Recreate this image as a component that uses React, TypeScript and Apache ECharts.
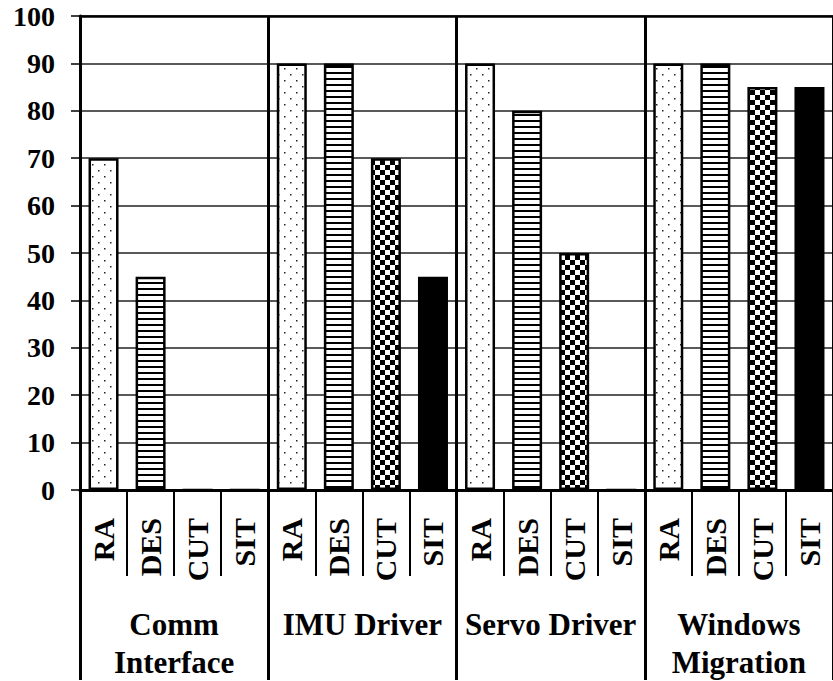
import React, { useEffect, useRef } from "react";
import * as echarts from "echarts";

const groups = ["Comm\nInterface", "IMU Driver", "Servo Driver", "Windows\nMigration"];
const methods = ["RA", "DES", "CUT", "SIT"];
const raValues = [70, 90, 90, 90];
const desValues = [45, 90, 80, 90];
const cutValues = [0, 70, 50, 85];
const sitValues = [0, 45, 0, 85];
const yTicks = { min: 0, max: 100, interval: 10 };

const FONT = "Liberation Serif";

function makeCanvas(w: number, h: number, draw: (c: CanvasRenderingContext2D) => void) {
  const cv = document.createElement("canvas");
  cv.width = w;
  cv.height = h;
  const ctx = cv.getContext("2d")!;
  ctx.fillStyle = "#fff";
  ctx.fillRect(0, 0, w, h);
  draw(ctx);
  return cv;
}

export default function App() {
  const ref = useRef<HTMLDivElement>(null);
  useEffect(() => {
    if (!ref.current) return;
    const chart = echarts.init(ref.current, null, { renderer: "svg" });

    const dots = makeCanvas(12, 12, (c) => {
      c.fillStyle = "#222";
      c.fillRect(2, 2, 1.5, 1.5);
      c.fillRect(8, 8, 1.5, 1.5);
    });
    const stripes = makeCanvas(6, 6, (c) => {
      c.fillStyle = "#000";
      c.fillRect(0, 0, 6, 2);
    });
    const checker = makeCanvas(10, 10, (c) => {
      c.fillStyle = "#000";
      c.fillRect(0, 0, 5, 5);
      c.fillRect(5, 5, 5, 5);
    });
    const fills: any[] = [
      { image: dots, repeat: "repeat" },
      { image: stripes, repeat: "repeat" },
      { image: checker, repeat: "repeat" },
      "#000",
    ];
    const valueSets = [raValues, desValues, cutValues, sitValues];

    const categories: string[] = [];
    const data: any[] = [];
    groups.forEach((_, gi) => {
      methods.forEach((m, mi) => {
        categories.push(m);
        data.push({
          value: valueSets[mi][gi],
          itemStyle: { color: fills[mi], borderColor: "#000", borderWidth: 2.5 },
        });
      });
    });

    chart.setOption({
      animation: false,
      backgroundColor: "#fff",
      textStyle: { fontFamily: FONT },
      grid: { left: 80, top: 16, width: 761, height: 478, containLabel: false },
      xAxis: [
        {
          type: "category",
          data: categories,
          position: "bottom",
          axisLine: { show: true, lineStyle: { color: "#000", width: 3 } },
          axisTick: {
            show: true,
            alignWithLabel: false,
            interval: 0,
            length: 86,
            lineStyle: { color: "#000", width: 2 },
          },
          axisLabel: {
            interval: 0,
            rotate: 90,
            margin: 28,
            color: "#000",
            fontFamily: FONT,
            fontWeight: "bold",
            fontSize: 30,
          },
          splitLine: { show: false },
        },
        {
          type: "category",
          data: groups,
          position: "bottom",
          axisLine: { show: false },
          axisTick: {
            show: true,
            alignWithLabel: false,
            interval: 0,
            length: 190,
            lineStyle: { color: "#000", width: 3 },
          },
          axisLabel: {
            interval: 0,
            margin: 115,
            lineHeight: 38,
            color: "#000",
            fontFamily: FONT,
            fontWeight: "bold",
            fontSize: 31,
          },
          splitLine: { show: true, interval: 0, lineStyle: { color: "#000", width: 3 } },
        },
        {
          type: "category",
          data: [""],
          position: "top",
          axisLine: { show: true, lineStyle: { color: "#000", width: 2.5 } },
          axisTick: { show: false },
          axisLabel: { show: false },
          splitLine: { show: false },
        },
      ],
      yAxis: {
        type: "value",
        min: yTicks.min,
        max: yTicks.max,
        interval: yTicks.interval,
        axisLine: { show: true, lineStyle: { color: "#000", width: 3 } },
        axisTick: { show: true, length: 9, lineStyle: { color: "#000", width: 1.5 } },
        axisLabel: {
          margin: 25,
          color: "#000",
          fontFamily: FONT,
          fontWeight: "bold",
          fontSize: 28,
        },
        splitLine: { show: true, lineStyle: { color: "#222", width: 1.5 } },
      },
      series: [
        {
          type: "bar",
          xAxisIndex: 0,
          yAxisIndex: 0,
          barWidth: 30,
          data,
        },
      ],
    });
    return () => chart.dispose();
  }, []);
  return (
    <div
      ref={ref}
      style={{ position: "fixed", left: 0, top: 0, width: 833, height: 681, background: "#fff" }}
    />
  );
}
